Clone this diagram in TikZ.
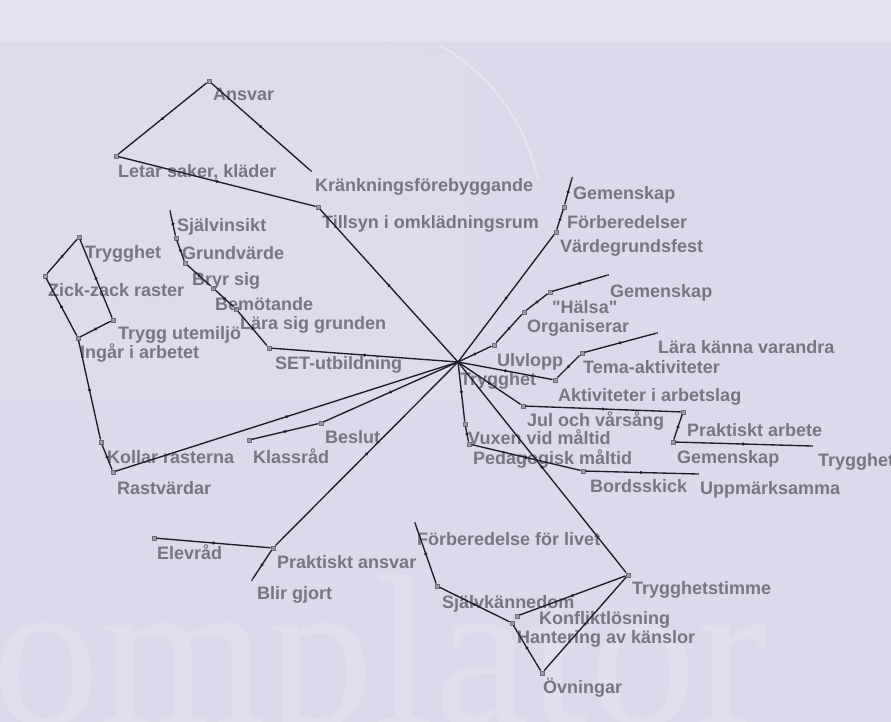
\documentclass[tikz,border=0pt]{standalone}
\usepackage{fontspec}
\setmainfont{Liberation Sans}
\newfontfamily\wmfont{Liberation Serif}
\usetikzlibrary{decorations.markings}
\definecolor{bg}{RGB}{218,218,236}
\definecolor{lblgray}{RGB}{118,118,130}
\definecolor{linedark}{RGB}{30,30,42}
\definecolor{sqgray}{RGB}{110,110,126}
\newcommand\gnode[5]{\node[#1] (#2) at (#3) {}; \node[lbl] (#2-t) at (#4) {#5};}
\newcommand\strq{\XeTeXglyph\XeTeXcharglyph"22\relax}
\begin{document}
\begin{tikzpicture}[x=1pt,y=-1pt,
 lbl/.style={anchor=base west, inner sep=0pt, yshift=-6pt, text=lblgray, font=\fontsize{18}{20}\selectfont\bfseries},
 sq/.style={draw=sqgray, fill=sqgray!70, rectangle, inner sep=0pt, minimum size=4.5pt},
 leaf/.style={fill=linedark, circle, inner sep=0pt, minimum size=2pt},
 hubpt/.style={inner sep=0pt, minimum size=0pt},
 edge/.style={draw=linedark, line width=1.35pt, postaction={decorate},
   decoration={markings, mark=at position 0.5 with {\fill[linedark] (0,0) circle (1.7pt);}}},
 wm/.style={anchor=base west, inner sep=0pt, text=white, opacity=0.16, font=\wmfont\fontsize{215}{215}\selectfont}
]
\useasboundingbox (0,0) rectangle (891,722);
\fill[bg] (0,0) rectangle (891,722);
\fill[white, opacity=0.2] (0,0) rectangle (891,42);
\fill[white, opacity=0.08] (0,42) .. controls (150,30) and (380,30) .. (470,60) -- (470,400) -- (0,400) -- cycle;
\draw[white, opacity=0.3, line width=2pt] (440,45) .. controls (490,75) and (525,120) .. (538,180);
\node[wm] (wmark) at (-8,724) {omplator};

% nodes
\gnode{hubpt}{hub}{458,362}{460,379}{Trygghet}
\gnode{sq}{tillsyn}{318,207}{322,222}{Tillsyn i omklädningsrum}
\gnode{sq}{letar}{116,156}{118,172}{Letar saker, kläder}
\gnode{sq}{ansvar}{209,81}{213,95}{Ansvar}
\gnode{leaf}{krank}{311,171}{315,186}{Kränkningsförebyggande}

\gnode{sq}{set}{269,348}{275,363}{SET-utbildning}
\gnode{sq}{lara}{236,309}{240,323}{Lära sig grunden}
\gnode{sq}{bemot}{213,288}{215,304}{Bemötande}
\gnode{sq}{bryr}{185,263}{192,279}{Bryr sig}
\gnode{sq}{grund}{176,238}{182,253}{Grundvärde}
\gnode{leaf}{sjalv}{170,211}{177,225}{Självinsikt}

\gnode{sq}{rast}{113,472}{117,488}{Rastvärdar}
\gnode{sq}{kollar}{101,442}{107,457}{Kollar rasterna}
\gnode{sq}{ingar}{78,338}{80,352}{Ingår i arbetet}
\gnode{sq}{tryggute}{113,320}{118,333}{Trygg utemiljö}
\gnode{sq}{trygga}{79,237}{85,252}{Trygghet}
\gnode{sq}{zick}{45,276}{48,290}{Zick-zack raster}

\gnode{sq}{beslut}{321,423}{325,437}{Beslut}
\gnode{sq}{klass}{249,440}{253,457}{Klassråd}
\gnode{sq}{prakans}{273,548}{277,562}{Praktiskt ansvar}
\gnode{sq}{elev}{154,538}{157,553}{Elevråd}
\gnode{leaf}{blir}{252,580}{257,593}{Blir gjort}

\gnode{sq}{vard}{556,232}{560,246}{Värdegrundsfest}
\gnode{sq}{forb}{564,207}{567,223}{Förberedelser}
\gnode{leaf}{gema}{572,178}{573,194}{Gemenskap}

\gnode{sq}{ulv}{494,345}{497,360}{Ulvlopp}
\gnode{sq}{org}{524,312}{527,326}{Organiserar}
\gnode{sq}{hals}{550,292}{552,307}{\strq Hälsa\strq}
\gnode{leaf}{gemb}{608,275}{610,291}{Gemenskap}

\gnode{sq}{akt}{555,380}{558,395}{Aktiviteter i arbetslag}
\gnode{sq}{tema}{582,353}{583,367}{Tema-aktiviteter}
\gnode{leaf}{larab}{657,333}{658,347}{Lära känna varandra}

\gnode{sq}{jul}{523,406}{527,420}{Jul och vårsång}
\gnode{sq}{prarb}{683,412}{687,430}{Praktiskt arbete}
\gnode{sq}{gemc}{673,442}{677,457}{Gemenskap}
\gnode{leaf}{tryggb}{812,446}{818,460}{Trygghet}

\gnode{sq}{vux}{465,424}{468,438}{Vuxen vid måltid}
\gnode{sq}{ped}{469,444}{473,458}{Pedagogisk måltid}
\gnode{sq}{bord}{583,471}{590,486}{Bordsskick}
\gnode{leaf}{uppm}{698,474}{700,488}{Uppmärksamma}

\gnode{sq}{tt}{628,575}{632,588}{Trygghetstimme}
\gnode{sq}{konf}{517,616}{539,618}{Konfliktlösning}
\gnode{sq}{hant}{512,623}{517,637}{Hantering av känslor}
\gnode{sq}{ovn}{542,673}{543,687}{Övningar}
\gnode{sq}{selv}{437,586}{442,602}{Självkännedom}
\gnode{leaf}{forliv}{415,523}{417,539}{Förberedelse för livet}

% edges
\draw[edge] (hub) -- (tillsyn);
\draw[edge] (tillsyn) -- (letar);
\draw[edge] (letar) -- (ansvar);
\draw[edge] (ansvar) -- (krank);

\draw[edge] (hub) -- (set);
\draw[edge] (set) -- (lara);
\draw[edge] (lara) -- (bemot);
\draw[edge] (bemot) -- (bryr);
\draw[edge] (bryr) -- (grund);
\draw[edge] (grund) -- (sjalv);

\draw[edge] (hub) -- (rast);
\draw[edge] (rast) -- (kollar);
\draw[edge] (kollar) -- (ingar);
\draw[edge] (ingar) -- (tryggute);
\draw[edge] (tryggute) -- (trygga);
\draw[edge] (trygga) -- (zick);
\draw[edge] (zick) -- (ingar);

\draw[edge] (hub) -- (beslut);
\draw[edge] (beslut) -- (klass);
\draw[edge] (hub) -- (prakans);
\draw[edge] (prakans) -- (elev);
\draw[edge] (prakans) -- (blir);

\draw[edge] (hub) -- (vard);
\draw[edge] (vard) -- (forb);
\draw[edge] (forb) -- (gema);

\draw[edge] (hub) -- (ulv);
\draw[edge] (ulv) -- (org);
\draw[edge] (org) -- (hals);
\draw[edge] (hals) -- (gemb);

\draw[edge] (hub) -- (akt);
\draw[edge] (akt) -- (tema);
\draw[edge] (tema) -- (larab);

\draw[edge] (hub) -- (jul);
\draw[edge] (jul) -- (prarb);
\draw[edge] (prarb) -- (gemc);
\draw[edge] (gemc) -- (tryggb);

\draw[edge] (hub) -- (vux);
\draw[edge] (vux) -- (ped);
\draw[edge] (ped) -- (bord);
\draw[edge] (bord) -- (uppm);

\draw[edge] (hub) -- (tt);
\draw[edge] (tt) -- (konf);
\draw[edge] (tt) -- (ovn);
\draw[edge] (ovn) -- (hant);
\draw[edge] (hant) -- (selv);
\draw[edge] (selv) -- (forliv);
\end{tikzpicture}
\end{document}
